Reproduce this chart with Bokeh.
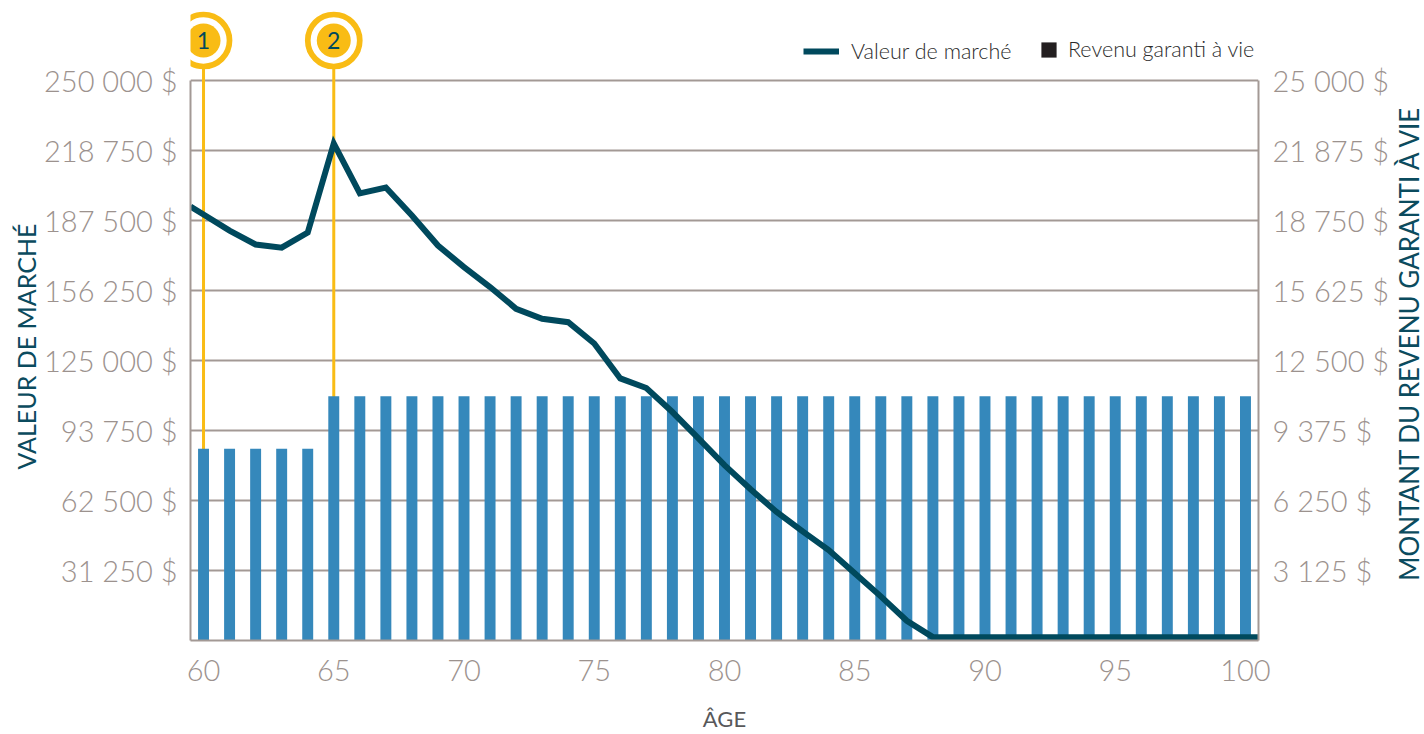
import math
from bokeh.plotting import figure
from bokeh.layouts import row
from bokeh.models import Range1d, LinearAxis, FixedTicker, Legend, LegendItem
from bokeh.core.properties import value
from bokeh.embed import file_html
from bokeh.resources import INLINE

# ---------------- data ----------------
ages = [60, 61, 62, 63, 64, 65, 66, 67, 68, 69, 70, 71, 72, 73, 74, 75, 76, 77, 78, 79, 80,
        81, 82, 83, 84, 85, 86, 87, 88, 89, 90, 91, 92, 93, 94, 95, 96, 97, 98, 99, 100]
guaranteed_income = [8560, 8560, 8560, 8560, 8560,
                     10900, 10900, 10900, 10900, 10900, 10900, 10900, 10900, 10900, 10900,
                     10900, 10900, 10900, 10900, 10900, 10900, 10900, 10900, 10900, 10900,
                     10900, 10900, 10900, 10900, 10900, 10900, 10900, 10900, 10900, 10900,
                     10900, 10900, 10900, 10900, 10900, 10900]

line_ages = [59.5, 60, 61, 62, 63, 64, 65, 66, 67, 68, 69, 70, 71, 72, 73, 74, 75, 76, 77, 78,
             79, 80, 81, 82, 83, 84, 85, 86, 87, 88, 89, 90, 91, 92, 93, 94, 95, 96, 97, 98, 99, 100, 100.5]
market_value = [193750, 190200, 183000, 176800, 175400, 182100, 221900, 199600, 202200, 189700,
                176300, 166700, 157800, 148100, 143600, 142100, 132600, 117000, 112700, 102000,
                90200, 78300, 67500, 57400, 48700, 40400, 30000, 19700, 8800, 1500,
                1500, 1500, 1500, 1500, 1500, 1500, 1500, 1500, 1500, 1500, 1500, 1500, 1500]

marker_ages = [60, 65]
marker_labels = ["1", "2"]

left_ticks = [31250, 62500, 93750, 125000, 156250, 187500, 218750, 250000]
left_labels = ["31 250 $", "62 500 $", "93 750 $", "125 000 $", "156 250 $",
               "187 500 $", "218 750 $", "250 000 $"]
right_ticks = [3125, 6250, 9375, 12500, 15625, 18750, 21875, 25000]
right_labels = ["3 125 $", "6 250 $", "9 375 $", "12 500 $", "15 625 $",
                "18 750 $", "21 875 $", "25 000 $"]
age_ticks = [60, 65, 70, 75, 80, 85, 90, 95, 100]

left_title = "VALEUR DE MARCHÉ"
right_title = "MONTANT DU REVENU GARANTI À VIE"
x_title = "ÂGE"
legend_labels = ["Valeur de marché", "Revenu garanti à vie"]

# ---------------- styles ----------------
FONT = "Lato"
LIGHT = "Lato Light, Lato"
BAR = "#3588bb"
LINE = "#00495d"
YELLOW = "#f9bc15"
GRID = "#a39995"
TICK = "#9c928e"
TITLE = "#0b4b5e"

H = 734
LEFT_W = 41
RIGHT_W = 32
MAIN_W = 1424 - LEFT_W - RIGHT_W
FRAME_TOP = 10
FRAME_BOTTOM = 640

Y_MAX = 250000
Y_TOP = 281250          # extra room above the chart for markers / legend
CIRCLE_Y = 267857

p = figure(width=MAIN_W, height=H,
           x_range=Range1d(59.5, 100.5), y_range=Range1d(0, Y_TOP),
           output_backend="svg", toolbar_location=None,
           min_border_left=190 - LEFT_W, min_border_right=MAIN_W + LEFT_W - 1258,
           min_border_top=FRAME_TOP, min_border_bottom=H - FRAME_BOTTOM)
p.extra_y_ranges = {"inc": Range1d(0, Y_TOP / 10)}
p.outline_line_color = None
p.background_fill_color = "white"
p.border_fill_color = "white"

# grid
p.xgrid.grid_line_color = None
p.ygrid.ticker = FixedTicker(ticks=left_ticks)
p.ygrid.grid_line_color = GRID
p.ygrid.grid_line_width = 2


def style_axis(ax, standoff):
    ax.axis_line_color = GRID
    ax.axis_line_width = 2
    ax.major_tick_line_color = None
    ax.minor_tick_line_color = None
    ax.major_tick_out = 0
    ax.major_tick_in = 0
    ax.minor_tick_out = 0
    ax.minor_tick_in = 0
    ax.major_label_text_font = LIGHT
    ax.major_label_text_font_size = "29px"
    ax.major_label_text_color = TICK
    ax.major_label_standoff = standoff


# left axis
ly = p.yaxis[0]
ly.ticker = FixedTicker(ticks=left_ticks)
ly.major_label_overrides = dict(zip(left_ticks, left_labels))
ly.bounds = (0, Y_MAX)
style_axis(ly, 13)

# right axis
ry = LinearAxis(y_range_name="inc", ticker=FixedTicker(ticks=right_ticks))
ry.major_label_overrides = dict(zip(right_ticks, right_labels))
ry.bounds = (0, Y_MAX / 10)
style_axis(ry, 14)
p.add_layout(ry, "right")

# x axis
xa = p.xaxis[0]
xa.ticker = FixedTicker(ticks=age_ticks)
style_axis(xa, 19)
xa.axis_label = x_title
xa.axis_label_text_font = FONT
xa.axis_label_text_font_size = "22px"
xa.axis_label_text_font_style = "normal"
xa.axis_label_text_color = "#58585a"
xa.axis_label_standoff = 21

# marker stems (behind bars)
p.segment(x0=marker_ages, y0=[0, 0], x1=marker_ages, y1=[CIRCLE_Y, CIRCLE_Y],
          line_color=YELLOW, line_width=3)

# bars
bars = p.vbar(x=ages, top=guaranteed_income, width=0.42, y_range_name="inc",
              fill_color=BAR, line_color=None)

# market value line
line_r = p.line(line_ages, market_value, line_color=LINE, line_width=6, line_join="miter")

# marker circles
p.scatter(marker_ages, [CIRCLE_Y, CIRCLE_Y], size=52, fill_color="white",
          line_color=YELLOW, line_width=5.7)
p.scatter(marker_ages, [CIRCLE_Y, CIRCLE_Y], size=34, fill_color=YELLOW, line_color=None)
p.text(marker_ages, [CIRCLE_Y, CIRCLE_Y], text=marker_labels, text_font=value(FONT),
       text_font_size="23px", text_align="center", text_baseline="middle", text_color=LINE)

# legend proxy for the black square (not drawn in the chart itself)
sq = p.vbar(x=[float("nan")], top=[float("nan")], width=1,
            fill_color="#231f20", line_color=None)

common = dict(orientation="horizontal", padding=0, margin=0, spacing=0,
              border_line_color=None, background_fill_alpha=0,
              label_text_font=LIGHT, label_text_font_size="21.5px",
              label_text_color="#2b2b2b")
leg1 = Legend(items=[LegendItem(label=legend_labels[0], renderers=[line_r])],
              location=(613, 576), glyph_width=36, glyph_height=24, label_standoff=12, **common)
leg2 = Legend(items=[LegendItem(label=legend_labels[1], renderers=[sq])],
              location=(849, 578), glyph_width=19, glyph_height=19, label_standoff=10, **common)
p.add_layout(leg1)
p.add_layout(leg2)


# side strips holding the rotated axis titles (reading bottom to top);
# their frames are aligned with the main frame by the row layout
def side_strip(width, title, cx, cy, size):
    s = figure(width=width, height=H, x_range=Range1d(0, width),
               y_range=Range1d(H - FRAME_BOTTOM, H - FRAME_TOP),
               output_backend="svg", toolbar_location=None,
               x_axis_location=None, y_axis_location=None, min_border=0)
    s.outline_line_color = None
    s.grid.visible = False
    s.background_fill_color = "white"
    s.border_fill_color = "white"
    s.text(x=[cx], y=[H - cy], text=[title], angle=math.pi / 2,
           text_font=value(FONT), text_font_size=size, text_color=TITLE,
           text_align="center", text_baseline="middle")
    return s


s_left = side_strip(LEFT_W, left_title, 25.5, 346, "25px")
s_right = side_strip(RIGHT_W, right_title, 16, 342, "26px")

layout = row(s_left, p, s_right)
open("out.html", "w").write(file_html(layout, INLINE))
